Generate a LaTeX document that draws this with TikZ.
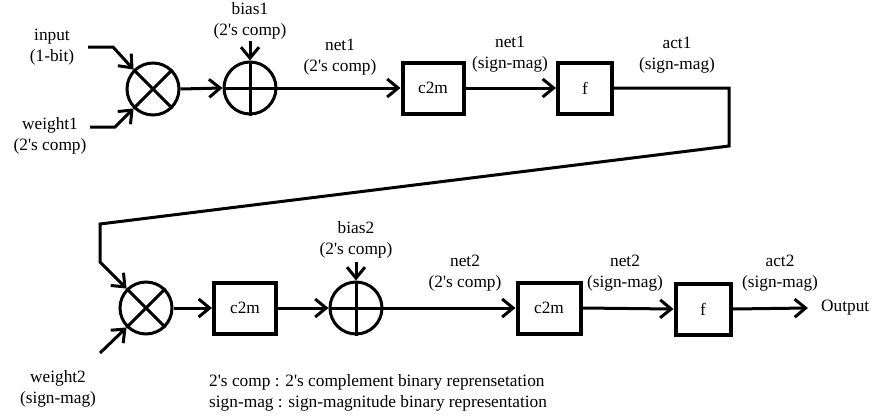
\documentclass[tikz,border=0pt]{standalone}
\usepackage{fontspec}
\setmainfont{Liberation Serif}
\usetikzlibrary{arrows.meta}
\newcommand{\ap}{\textquotesingle}
\begin{document}
\begin{tikzpicture}[x=1pt,y=-1pt,
  every node/.style={font=\fontsize{17.3}{21}\selectfont},
  op/.style={circle,draw,line width=3pt,minimum size=52pt,inner sep=0pt},
  blk/.style={draw,line width=4pt,minimum height=51pt,inner sep=0pt},
  lbl/.style={align=center,inner sep=0pt},
  wire/.style={line width=3pt},
  arr/.style={wire,-{Straight Barb[length=11pt,width=18pt,line width=3pt]}}]
\useasboundingbox (0,0) rectangle (877,418);
% row 1
\node[op] (m1) at (153,89) {};
\draw[wire] (m1.north west) -- (m1.south east) (m1.north east) -- (m1.south west);
\node[op] (a1) at (250,88) {};
\draw[wire] (a1.north) -- (a1.south) (a1.west) -- (a1.east);
\node[blk,minimum width=61pt] (c1) at (433,88) {c2m};
\node[blk,minimum width=54pt] (f1) at (585,88) {f};
\node[lbl] (lin) at (52,47) {input\\(1-bit)};
\node[lbl] (lw1) at (50,136) {weight1\\(2\ap s comp)};
\node[lbl] (lb1) at (250,21) {bias1\\(2\ap s comp)};
\node[lbl] (ln1) at (340,57) {net1\\(2\ap s comp)};
\node[lbl] (ln1s) at (510,54) {net1\\(sign-mag)};
\node[lbl] (la1) at (677,55) {act1\\(sign-mag)};
\coordinate (pin) at (88,47);
\coordinate (pw1) at (90,127);
\coordinate (pb1) at (250,41);
\draw[arr] (pin) -- (113,47) -- (m1.north west);
\draw[arr] (pw1) -- (115,127) -- (m1.south west);
\draw[arr] (pb1) -- (a1.north);
\draw[arr] (m1.east) -- (a1.west);
\draw[arr] (a1.east) -- (c1.west);
\draw[arr] (c1.east) -- (f1.west);
% row 2
\node[op] (m2) at (146,308) {};
\draw[wire] (m2.north west) -- (m2.south east) (m2.north east) -- (m2.south west);
\node[blk,minimum width=62pt] (c2) at (245,308) {c2m};
\node[op] (a2) at (356,308) {};
\draw[wire] (a2.north) -- (a2.south) (a2.west) -- (a2.east);
\node[blk,minimum width=63pt] (c3) at (549,308) {c2m};
\node[blk,minimum width=55pt] (f2) at (703,309) {f};
\node[lbl] (lw2) at (58,389) {weight2\\(sign-mag)};
\node[lbl] (lb2) at (356,240) {bias2\\(2\ap s comp)};
\node[lbl] (ln2) at (465,273) {net2\\(2\ap s comp)};
\node[lbl] (ln2s) at (625,273) {net2\\(sign-mag)};
\node[lbl] (la2) at (780,273) {act2\\(sign-mag)};
\node[lbl,anchor=west] (out) at (821,308) {Output};
\coordinate (pw2) at (100,353);
\coordinate (pb2) at (356,262);
\coordinate (pout) at (808,308);
\draw[arr] (f1.east) -- (729,88) -- (729,146) -- (100,224) -- (100,262) -- (m2.north west);
\draw[arr] (pw2) -- (m2.south west);
\draw[arr] (pb2) -- (a2.north);
\draw[arr] (m2.east) -- (c2.west);
\draw[arr] (c2.east) -- (a2.west);
\draw[arr] (a2.east) -- (c3.west);
\draw[arr] (c3.east) -- (f2.west);
\draw[arr] (f2.east) -- (pout);
% legend
\node[lbl,anchor=west] (leg1) at (209,382) {2\ap s comp : 2\ap s complement binary reprensetation};
\node[lbl,anchor=west] (leg2) at (209,403) {sign-mag : sign-magnitude binary representation};
\end{tikzpicture}
\end{document}
